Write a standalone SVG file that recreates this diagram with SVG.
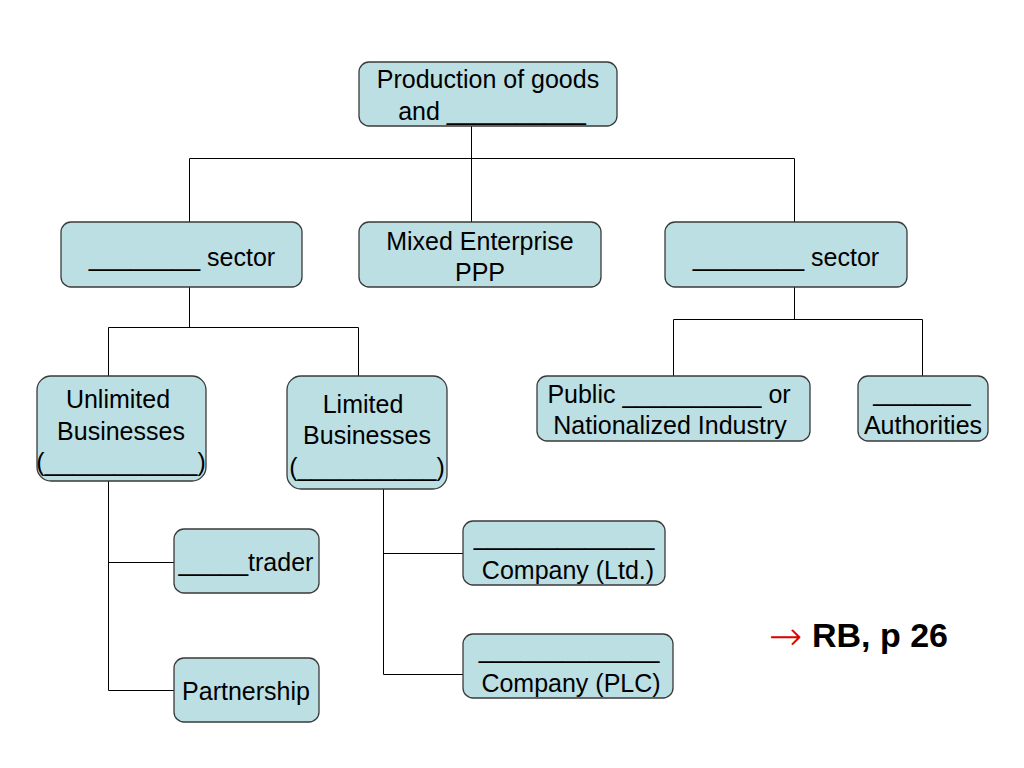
<svg xmlns="http://www.w3.org/2000/svg" width="1024" height="768" viewBox="0 0 1024 768">
<style>
.box{fill:#bcdfe3;stroke:#3a3a3a;stroke-width:1.3}
.t{font-family:"Liberation Sans",Arial,sans-serif;font-size:25px;fill:#000;text-anchor:middle}
.c{stroke:#000;stroke-width:1;fill:none}
</style>
<rect width="1024" height="768" fill="#fff"/>
<g id="connectors">
<path class="c" d="M471.5 126V158.5M189.5 158.5H794.5M189.5 158.5V222M471.5 158.5V222M794.5 158.5V222"/>
<path class="c" d="M189.5 287V327.5M108.5 327.5H358.5M108.5 327.5V376M358.5 327.5V376"/>
<path class="c" d="M794.5 287V319.5M673.5 319.5H922.5M673.5 319.5V376M922.5 319.5V376"/>
<path class="c" d="M108.5 481V690.5M108.5 562.5H174M108.5 690.5H174"/>
<path class="c" d="M383.5 489V674.5M383.5 553.5H463M383.5 674.5H463"/>
</g>
<g id="root"><rect class="box" x="359" y="62" width="258" height="64" rx="10"/>
<text class="t" x="488" y="88">Production of goods</text><text class="t" x="492" y="120">and __________</text></g>
<g id="private"><rect class="box" x="61" y="222" width="241" height="65" rx="10"/>
<text class="t" x="182" y="266">________ sector</text></g>
<g id="mixed"><rect class="box" x="359" y="222" width="242" height="65" rx="10"/>
<text class="t" x="480" y="250">Mixed Enterprise</text><text class="t" x="480" y="281">PPP</text></g>
<g id="public"><rect class="box" x="665" y="222" width="242" height="65" rx="10"/>
<text class="t" x="786" y="266">________ sector</text></g>
<g id="unlimited"><rect class="box" x="37" y="376" width="169" height="105" rx="14"/>
<text class="t" x="118" y="408">Unlimited</text><text class="t" x="121" y="440">Businesses</text><text class="t" x="121" y="471">(___________)</text></g>
<g id="limited"><rect class="box" x="287" y="376" width="160" height="113" rx="14"/>
<text class="t" x="363" y="413">Limited</text><text class="t" x="367" y="444">Businesses</text><text class="t" x="367" y="476">(__________)</text></g>
<g id="publiccorp"><rect class="box" x="537" y="376" width="273" height="65" rx="10"/>
<text class="t" x="669" y="403">Public __________ or</text><text class="t" x="670" y="434">Nationalized Industry</text></g>
<g id="authorities"><rect class="box" x="858" y="376" width="130" height="65" rx="10"/>
<text class="t" x="922" y="401">_______</text><text class="t" x="923" y="434">Authorities</text></g>
<g id="soletrader"><rect class="box" x="174" y="529" width="145" height="64" rx="10"/>
<text class="t" x="246" y="571">_____trader</text></g>
<g id="partnership"><rect class="box" x="174" y="658" width="145" height="64" rx="10"/>
<text class="t" x="246" y="700">Partnership</text></g>
<g id="ltd"><rect class="box" x="463" y="521" width="202" height="64" rx="10"/>
<text class="t" x="564" y="545">_____________</text><text class="t" x="568" y="579">Company (Ltd.)</text></g>
<g id="plc"><rect class="box" x="463" y="634" width="210" height="64" rx="10"/>
<text class="t" x="569" y="658">_____________</text><text class="t" x="571" y="692">Company (PLC)</text></g>
<g id="ref">
<text x="769" y="650" font-family="'DejaVu Sans',sans-serif" font-size="40" font-weight="200" fill="#e00000">→</text>
<text x="812" y="647" font-family="'Liberation Sans',Arial,sans-serif" font-size="34" font-weight="bold" fill="#000">RB, p 26</text>
</g>
</svg>
